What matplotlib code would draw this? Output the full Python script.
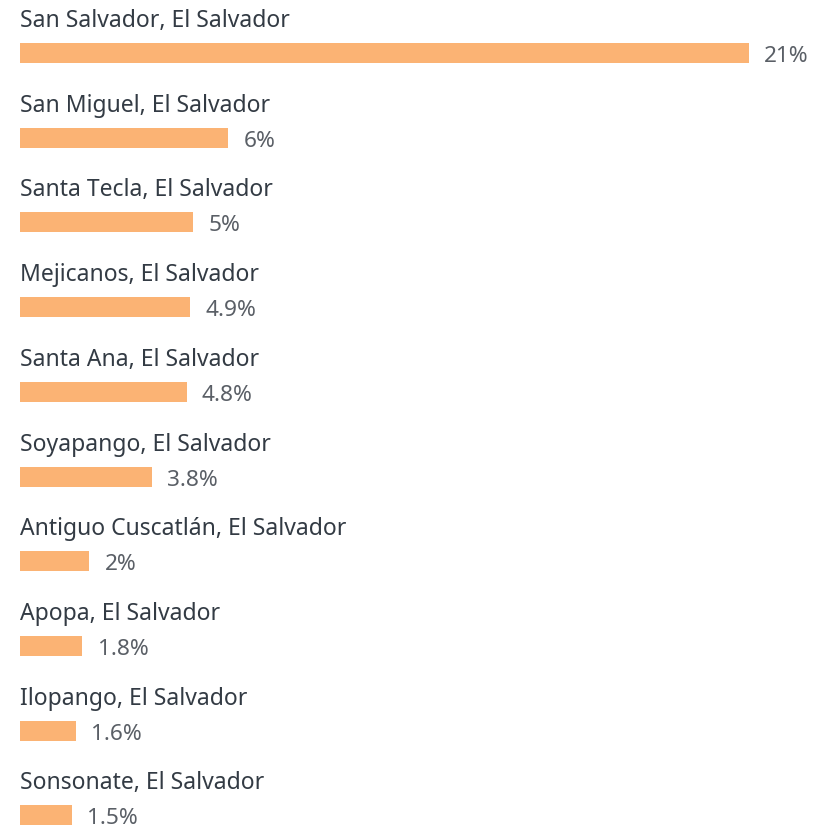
import matplotlib
matplotlib.use('Agg')
from matplotlib import pyplot as plt

cities = ['San Salvador, El Salvador', 'San Miguel, El Salvador', 'Santa Tecla, El Salvador',
          'Mejicanos, El Salvador', 'Santa Ana, El Salvador', 'Soyapango, El Salvador',
          'Antiguo Cuscatlán, El Salvador', 'Apopa, El Salvador', 'Ilopango, El Salvador',
          'Sonsonate, El Salvador']
shares = [21, 6, 5, 4.9, 4.8, 3.8, 2, 1.8, 1.6, 1.5]
share_labels = ['21%', '6%', '5%', '4.9%', '4.8%', '3.8%', '2%', '1.8%', '1.6%', '1.5%']

plt.rcParams['font.family'] = ['Noto Sans', 'DejaVu Sans']

fig = plt.figure(figsize=(8.18, 8.26), dpi=100)
ax = fig.add_axes([0, 0, 1, 1])

px_per_pct = 34.7
row_px = 84.7
ax.set_xlim(-20 / px_per_pct, (818 - 20) / px_per_pct)
ax.set_ylim((826 - 53) / row_px, -53 / row_px)
ax.axis('off')

pos = list(range(len(cities)))
ax.barh(pos, shares, height=20 / row_px, color='#fbb374', edgecolor='none')

for i, (name, v, lab) in enumerate(zip(cities, shares, share_labels)):
    ax.annotate(name, (0, i), xytext=(0, 18.7), textcoords='offset points',
                ha='left', va='baseline', fontsize=16.5, color='#333b44')
    ax.annotate(lab, (v, i), xytext=(11, -6.5), textcoords='offset points',
                ha='left', va='baseline', fontsize=16.3, color='#5a5f66')

fig.savefig('out.png', dpi=100)
